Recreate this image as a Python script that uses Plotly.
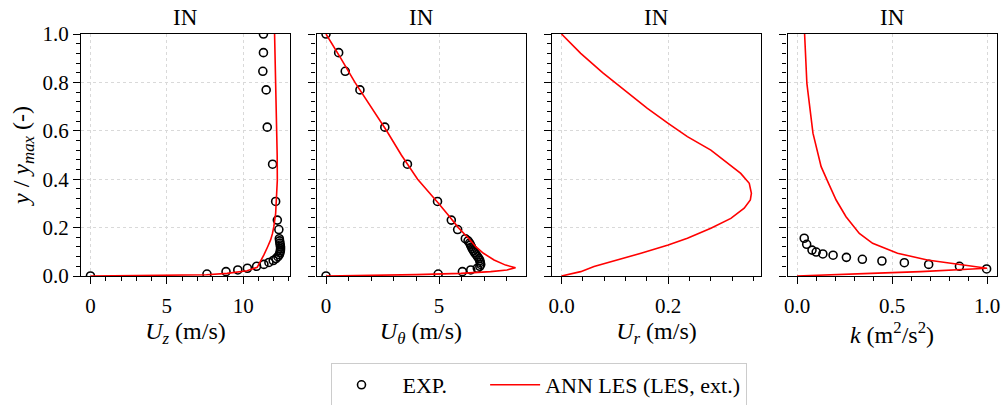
import plotly.graph_objects as go

# ---------------- data ----------------
exp_y = [0.0, 0.008, 0.018, 0.025, 0.032, 0.040, 0.048, 0.056, 0.064, 0.072, 0.080,
         0.088, 0.096, 0.104, 0.112, 0.120, 0.128, 0.136, 0.145, 0.154, 0.192, 0.231,
         0.308, 0.462, 0.615, 0.769, 0.846, 0.923, 1.0]
exp_uz = [0.0, 7.63, 8.88, 9.65, 10.28, 10.88, 11.36, 11.69, 11.97, 12.15, 12.28,
          12.37, 12.41, 12.44, 12.45, 12.45, 12.43, 12.41, 12.39, 12.37, 12.34, 12.24,
          12.13, 11.93, 11.58, 11.51, 11.29, 11.33, 11.33]
exp_ut = [0.0, 4.96, 6.03, 6.40, 6.69, 6.80, 6.84, 6.82, 6.80, 6.76, 6.70,
          6.64, 6.58, 6.52, 6.47, 6.43, 6.39, 6.35, 6.28, 6.16, 5.82, 5.54,
          4.93, 3.60, 2.60, 1.50, 0.85, 0.56, 0.0]

exp_k_y = [0.156, 0.131, 0.107, 0.099, 0.091, 0.086, 0.077, 0.069, 0.062, 0.055, 0.048, 0.040, 0.029]
exp_k = [0.038, 0.051, 0.079, 0.101, 0.136, 0.19, 0.26, 0.344, 0.447, 0.565, 0.693, 0.855, 0.998]

ann_uz_y = [0.0, 0.003, 0.005, 0.011, 0.022, 0.036, 0.06, 0.087, 0.12, 0.149, 0.175, 0.204,
            0.259, 0.32, 0.397, 0.5, 0.6, 0.7, 0.8, 0.9, 1.0]
ann_uz = [0.0, 3.5, 7.6, 8.95, 10.26, 10.92, 11.15, 11.36, 11.6, 11.8, 11.92, 12.01,
          12.13, 12.2, 12.24, 12.23, 12.19, 12.16, 12.12, 12.09, 12.06]

ann_ut_y = [0.0, 0.0014, 0.0055, 0.011, 0.018, 0.025, 0.034, 0.045, 0.066, 0.094, 0.121,
            0.154, 0.2, 0.25, 0.3, 0.4, 0.5, 0.6, 0.7, 0.8, 0.9, 1.0]
ann_ut = [0.0, 1.1, 4.0, 5.96, 7.28, 8.0, 8.38, 7.94, 7.43, 6.96, 6.62,
          6.32, 5.85, 5.42, 4.98, 4.05, 3.33, 2.68, 1.98, 1.28, 0.65, 0.0]

ann_ur_y = [1.0, 0.92, 0.84, 0.769, 0.693, 0.631, 0.576, 0.52, 0.466, 0.424, 0.383, 0.342,
            0.314, 0.28, 0.238, 0.197, 0.156, 0.128, 0.094, 0.066, 0.039, 0.018, 0.0]
ann_ur = [0.0, 0.036, 0.077, 0.1175, 0.161, 0.2, 0.236, 0.28, 0.311, 0.336, 0.352, 0.356,
          0.354, 0.3425, 0.3175, 0.28, 0.236, 0.2, 0.149, 0.105, 0.061, 0.036, 0.0]

ann_k_y = [1.0, 0.796, 0.59, 0.452, 0.383, 0.314, 0.245, 0.176, 0.135, 0.094, 0.066, 0.045,
           0.032, 0.03, 0.025, 0.018, 0.011, 0.003, 0.0]
ann_k = [0.04, 0.052, 0.084, 0.127, 0.166, 0.206, 0.258, 0.328, 0.398, 0.529, 0.686, 0.878,
         1.0, 0.948, 0.843, 0.651, 0.389, 0.05, 0.0]

titles = ["IN", "IN", "IN", "IN"]
x_titles = ["<i>U</i><sub><i>z</i></sub> (m/s)", "<i>U</i><sub><i>θ</i></sub> (m/s)",
            "<i>U</i><sub><i>r</i></sub> (m/s)", "<i>k</i> (m<sup>2</sup>/s<sup>2</sup>)"]
y_title = "<i>y</i> / <i>y</i><sub><i>max</i></sub> (-)"
legend_names = ["EXP.", "ANN LES (LES, ext.)"]

# ---------------- layout geometry ----------------
W, H = 1002, 405
px_domains = [(81, 290), (316.5, 525.5), (552, 761), (787.5, 996.5)]
y_top, y_bot = 34, 276
x_ranges = [(-0.62, 13.07), (-0.42, 8.82), (-0.0178, 0.374), (-0.05, 1.05)]
x_dticks = [5, 5, 0.2, 0.5]
x_minor = [1, 1, 0.04, 0.1]
x_fmt = ["d", "d", ".1f", ".1f"]

FONT = "Liberation Serif, Times New Roman, Times, serif"
RED = "#ff0000"

fig = go.Figure()

exp_sets = [(exp_uz, exp_y), (exp_ut, exp_y), None, (exp_k, exp_k_y)]
ann_sets = [(ann_uz, ann_uz_y), (ann_ut, ann_ut_y), (ann_ur, ann_ur_y), (ann_k, ann_k_y)]

for i in range(4):
    xa = "x" if i == 0 else f"x{i+1}"
    ya = "y" if i == 0 else f"y{i+1}"
    if exp_sets[i] is not None:
        ex, ey = exp_sets[i]
        fig.add_trace(go.Scatter(
            x=ex, y=ey, mode="markers",
            name="&nbsp;" * 2 + legend_names[0] + "&nbsp;" * 6,
            marker=dict(symbol="circle-open", size=8, color="black", line=dict(width=1.6, color="black")),
            xaxis=xa, yaxis=ya, showlegend=(i == 0), legendrank=1))
    ax, ay = ann_sets[i]
    fig.add_trace(go.Scatter(
        x=ax, y=ay, mode="lines", name=legend_names[1],
        line=dict(color=RED, width=1.6),
        xaxis=xa, yaxis=ya, showlegend=(i == 0), legendrank=2))

layout = dict(
    template="none",
    width=W, height=H,
    margin=dict(l=0, r=0, t=0, b=0, autoexpand=False),
    paper_bgcolor="white", plot_bgcolor="white",
    font=dict(family=FONT, size=21, color="black"),
    showlegend=True,
    legend=dict(orientation="h", x=538.5 / W, xanchor="center", y=(H - 385) / H, yanchor="middle",
                bgcolor="white", bordercolor="#cccccc", borderwidth=1,
                font=dict(family=FONT, size=22, color="black"), itemwidth=50, traceorder="normal"),
)

annotations = []
for i in range(4):
    x0, x1 = px_domains[i]
    key = "" if i == 0 else str(i + 1)
    common = dict(showgrid=True, gridcolor="#d9d9d9", griddash="dot", gridwidth=0.8,
                  showline=True, linecolor="black", linewidth=1.3, mirror=True,
                  ticks="outside", ticklen=7, tickwidth=1, tickcolor="black",
                  zeroline=False, automargin=False, ticklabeloverflow="allow",
                  tickfont=dict(family=FONT, size=21, color="black"))
    layout["xaxis" + key] = dict(
        domain=[x0 / W, x1 / W], anchor="y" + key, range=list(x_ranges[i]),
        dtick=x_dticks[i], tick0=0, tickformat=x_fmt[i], ticklabelstandoff=4,
        minor=dict(dtick=x_minor[i], tick0=0, ticks="outside", ticklen=4, tickcolor="black",
                   tickwidth=1, showgrid=False),
        title=dict(text=x_titles[i], font=dict(family=FONT, size=24, color="black"), standoff=3),
        **common)
    layout["yaxis" + key] = dict(
        domain=[(H - y_bot) / H, (H - y_top) / H], anchor="x" + key, range=[0, 1.0],
        dtick=0.2, tick0=0, tickformat=".1f", showticklabels=(i == 0),
        minor=dict(dtick=0.04, tick0=0, ticks="outside", ticklen=4, tickcolor="black",
                   tickwidth=1, showgrid=False),
        title=dict(text=y_title if i == 0 else "", font=dict(family=FONT, size=24, color="black"), standoff=6),
        **common)
    annotations.append(dict(text=titles[i], x=(x0 + x1) / 2 / W, y=(H - 17.5) / H,
                            xref="paper", yref="paper", xanchor="center", yanchor="middle",
                            showarrow=False, font=dict(family=FONT, size=23, color="black")))
layout["annotations"] = annotations
fig.update_layout(**layout)

fig.write_html("out.html", config={"displayModeBar": False},
               post_script="document.body.style.margin='0';document.body.style.overflow='hidden';")
